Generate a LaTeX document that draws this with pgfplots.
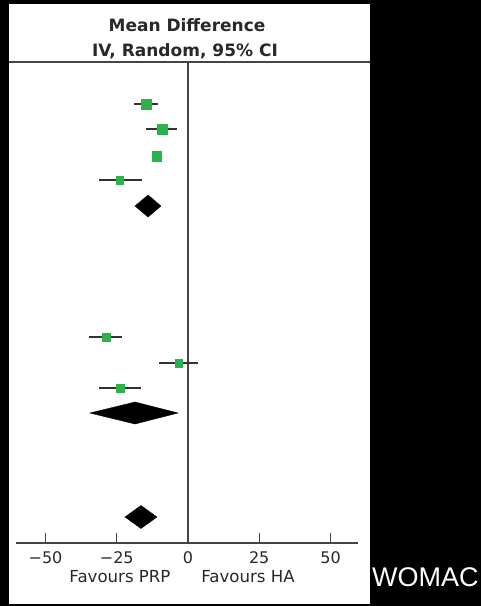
\documentclass[border=0pt]{standalone}
\usepackage{fontspec}
\setmainfont{DejaVu Sans}
\newfontfamily\womacfont{Liberation Sans}
\usepackage{pgfplots}
\usepackage{pgfplotstable}
\pgfplotsset{compat=1.18}
\definecolor{mkgreen}{RGB}{44,178,76}
\definecolor{lngray}{RGB}{68,68,68}
\definecolor{txtgray}{RGB}{40,40,40}

% y = -(row position in pixels), md = mean difference, em/ep = CI extent
\pgfplotstableread{
y     md     em   ep
-104  -14.7  4.2  4.2
-129  -9.1   5.6  5.2
-156  -10.9  0.9  0.9
-180  -23.9  7.3  7.8
-337  -28.8  5.9  5.6
-363  -3.2   7.0  6.7
-388  -23.8  7.4  7.3
}\studies
\pgfplotstableread{
y     md
-104  -14.7
-129  -9.1
-156  -10.9
}\bigsq
\pgfplotstableread{
y     md
-180  -23.9
-337  -28.8
-363  -3.2
-388  -23.8
}\smallsq

\begin{document}
\begin{tikzpicture}
\useasboundingbox (0,0) rectangle (481pt,-606pt);
\fill[black] (0,0) rectangle (481pt,-606pt);
\fill[white] (9pt,-4pt) rectangle (370pt,-604pt);
\draw[lngray, line width=1.2pt] (9pt,-62pt) -- (370pt,-62pt);
\node[anchor=base, font=\fontsize{17}{19}\selectfont\bfseries, text=txtgray] at (187pt,-31pt) {Mean Difference};
\node[anchor=base, font=\fontsize{17}{19}\selectfont\bfseries, text=txtgray] at (185pt,-56pt) {IV, Random, 95\% CI};
\node[anchor=base, font=\fontsize{16.6}{18}\selectfont, text=txtgray] at (120pt,-582pt) {Favours PRP};
\node[anchor=base, font=\fontsize{16.6}{18}\selectfont, text=txtgray] at (248pt,-582pt) {Favours HA};
\node[anchor=base west, inner sep=0pt, font=\womacfont\fontsize{27}{29}\selectfont, text=white] at (372pt,-586pt) {WOMAC};

\begin{axis}[
  at={(16pt,-543pt)}, anchor=south west,
  scale only axis, width=342pt, height=481pt,
  xmin=-60.35, xmax=59.65, ymin=-543, ymax=-62,
  axis x line=bottom, axis y line=none,
  x axis line style={-, lngray, line width=1.2pt},
  xtick={-50,-25,0,25,50},
  xticklabels={−50,−25,0,25,50},
  tick align=inside, major tick length=10pt,
  tick style={lngray, line width=1.2pt},
  x tick label style={font=\fontsize{16}{18}\selectfont, text=txtgray, yshift=-5pt},
  /pgf/number format/assume math mode=true,
  clip=false,
]
\addplot[lngray, line width=1.2pt] coordinates {(0,-62) (0,-543)};
\addplot[only marks, mark=none, forget plot,
  error bars/.cd, x dir=both, x explicit, error mark=none,
  error bar style={black!80, line width=1.3pt}]
  table[x=md, y=y, x error minus=em, x error plus=ep] {\studies};
\addplot[only marks, mark=square*, mark size=4.7pt, mark options={fill=mkgreen, draw=mkgreen, line width=0.4pt}]
  table[x=md, y=y] {\bigsq};
\addplot[only marks, mark=square*, mark size=3.8pt, mark options={fill=mkgreen, draw=mkgreen, line width=0.4pt}]
  table[x=md, y=y] {\smallsq};
% pooled diamonds
\addplot[fill=black, draw=black] coordinates {(-18.6,-206) (-14.0,-195) (-9.5,-206) (-14.0,-217)} -- cycle;
\addplot[fill=black, draw=black] coordinates {(-34.4,-413) (-18.6,-402) (-3.5,-413) (-18.6,-424)} -- cycle;
\addplot[fill=black, draw=black] coordinates {(-22.1,-517) (-16.5,-505.5) (-10.9,-517) (-16.5,-528.5)} -- cycle;
\end{axis}
\end{tikzpicture}
\end{document}
